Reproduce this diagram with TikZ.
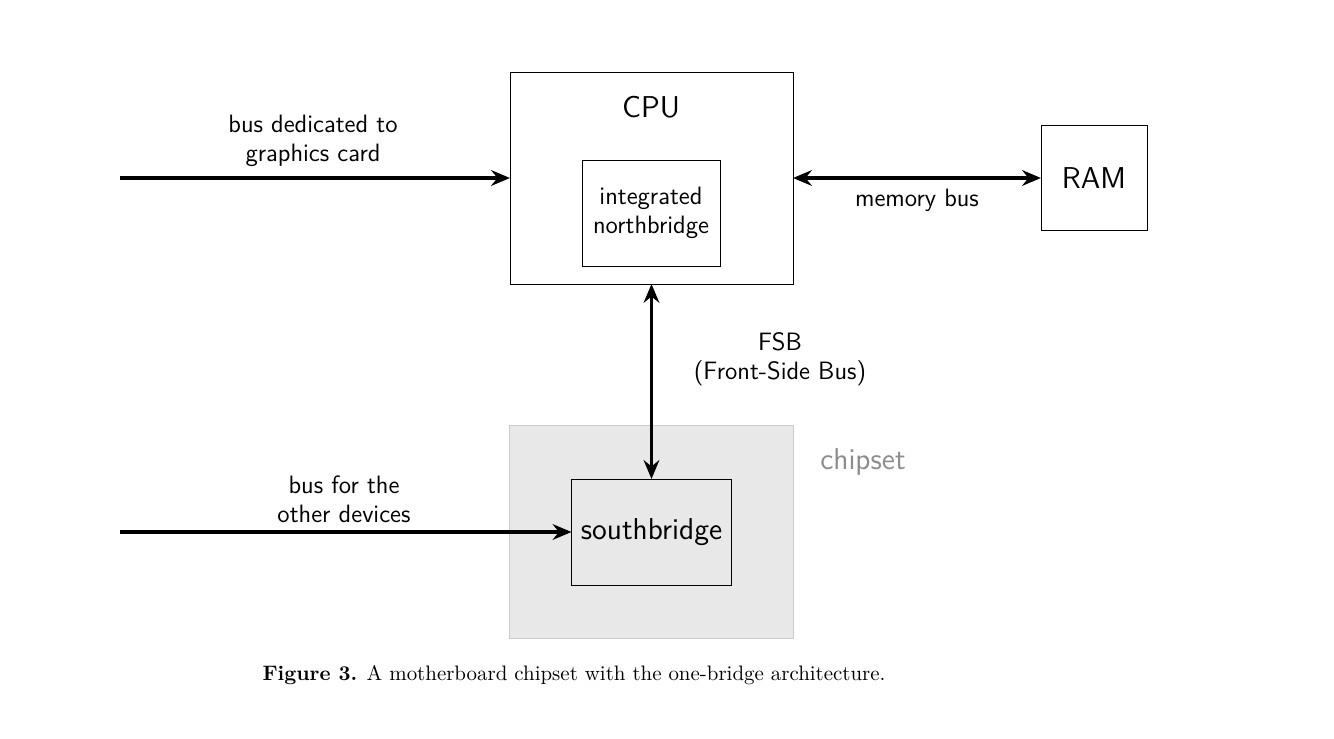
\documentclass[tikz,border=0pt]{standalone}
\usepackage{tikz}
\usetikzlibrary{arrows.meta}
\tikzset{
   box/.style={draw=black, inner sep=0pt, outer sep=0pt, font=\sffamily\Large},
   busline/.style={line width=1.6pt, -{Stealth[length=9pt,width=7.5pt,inset=3pt]}},
   twobus/.style={line width=1.6pt, {Stealth[length=9pt,width=7.5pt,inset=3pt]}-{Stealth[length=9pt,width=7.5pt,inset=3pt]}},
   buslabel/.style={align=center, font=\sffamily\large},
    }
\begin{document}
\begin{tikzpicture}[x=0.478pt,y=-0.478pt]
            \useasboundingbox (0,0) rectangle (1334,739);
            \node[box, draw=black!20, fill=black!9, minimum width=135.8pt, minimum height=101.8pt] (chipset) at (651.3,532.2) {};
            \node[font=\sffamily\Large, text=black!45] (chipsetname) at (863,462) {chipset};
            \node[box, minimum width=135.3pt, minimum height=101.3pt] (cpu) at (651.5,178) {};
            \node[font=\sffamily\Large] (cputext) at (651,107) {CPU};
            \node[box, font=\sffamily\large, align=center, minimum width=66pt, minimum height=50.7pt] (nb) at (651,213) {integrated\\northbridge};
            \node[box, minimum width=50.7pt, minimum height=50.2pt] (ram) at (1094,178) {RAM};
            \node[box, minimum width=76.5pt, minimum height=50.7pt] (sb) at (651.5,532) {southbridge};
            \coordinate (gfx) at (120,178);
            \coordinate (dev) at (120,532);
            \draw[busline] (gfx) -- (cpu.west);
            \draw[twobus] (cpu.east) -- (ram.west);
            \draw[twobus] (cpu.south) -- (sb.north);
            \draw[busline] (dev) -- (sb.west);
            \node[buslabel] (gfxlabel) at (313,141) {bus dedicated to\\graphics card};
            \node[buslabel] (memlabel) at (917,200) {memory bus};
            \node[buslabel] (fsblabel) at (780,359) {FSB\\(Front-Side Bus)};
            \node[buslabel] (devlabel) at (344,499) {bus for the\\other devices};
            \node (caption) at (574,675) {\textbf{Figure 3.} A motherboard chipset with the one-bridge architecture.};
\end{tikzpicture}
\end{document}
